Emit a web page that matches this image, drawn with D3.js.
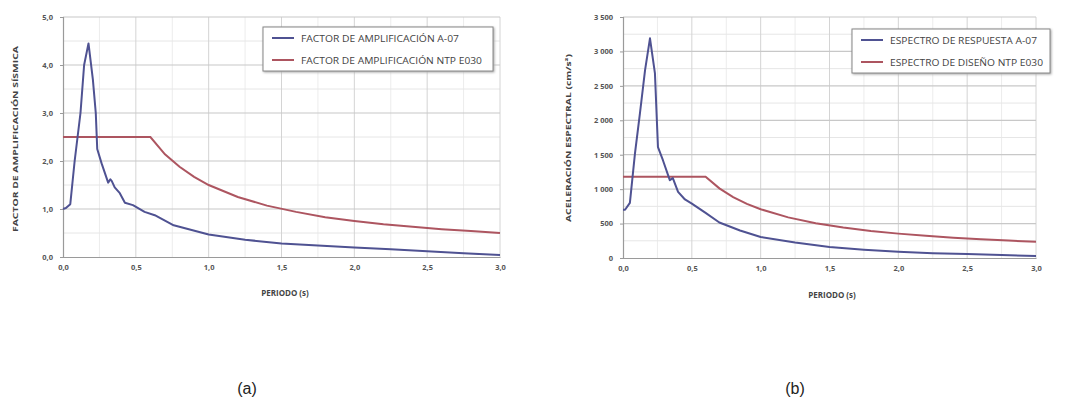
<!DOCTYPE html>
<html>
<head>
<meta charset="utf-8">
<script src="https://cdn.jsdelivr.net/npm/d3@7"></script>
<style>
  body { margin: 0; background: #fff; }
  svg text { font-family: "Open Sans", "DejaVu Sans", sans-serif; }
</style>
</head>
<body>
<div class="svgContainer"></div>
<script>
// ---- data ----
// (a) factor de amplificación
let ampPeriod = [0, 0.02, 0.05, 0.08, 0.12, 0.145, 0.175, 0.205, 0.225, 0.235, 0.265, 0.31, 0.325, 0.335, 0.355, 0.39, 0.425, 0.48, 0.56, 0.63, 0.76, 1.0, 1.25, 1.5, 1.75, 2.0, 2.25, 2.5, 2.75, 3.0];
let ampA07 = [1.0, 1.02, 1.1, 2.0, 3.0, 4.0, 4.45, 3.7, 3.0, 2.25, 1.95, 1.55, 1.62, 1.58, 1.45, 1.33, 1.13, 1.08, 0.94, 0.87, 0.66, 0.47, 0.36, 0.28, 0.24, 0.2, 0.16, 0.12, 0.08, 0.04];
let nrmPeriod = [0, 0.6, 0.7, 0.8, 0.9, 1.0, 1.2, 1.4, 1.6, 1.8, 2.0, 2.2, 2.4, 2.6, 2.8, 3.0];
let ampE030 = [2.5, 2.5, 2.14, 1.88, 1.67, 1.5, 1.25, 1.07, 0.94, 0.83, 0.75, 0.68, 0.63, 0.58, 0.54, 0.5];

// (b) espectro
let espPeriod = [0, 0.015, 0.05, 0.087, 0.123, 0.16, 0.196, 0.232, 0.254, 0.29, 0.34, 0.362, 0.4, 0.45, 0.5, 0.6, 0.7, 0.85, 1.0, 1.25, 1.5, 1.75, 2.0, 2.25, 2.5, 2.75, 3.0];
let espA07 = [700, 700, 800, 1520, 2100, 2725, 3190, 2680, 1610, 1420, 1130, 1160, 960, 850, 790, 655, 515, 400, 305, 225, 160, 120, 90, 70, 58, 42, 29];
let espE030 = [1180, 1180, 1011, 885, 787, 708, 590, 506, 443, 393, 354, 322, 295, 272, 253, 236];

let xTicks = [0, 0.5, 1.0, 1.5, 2.0, 2.5, 3.0];
let ampTicks = [0, 1, 2, 3, 4, 5];
let espTicks = [0, 500, 1000, 1500, 2000, 2500, 3000, 3500];

let w = 1069;
let h = 401;
let blue = "#4f5292";
let red = "#ad5560";

const svg = d3.select(".svgContainer")
    .append("svg")
    .attr("width", w)
    .attr("height", h)
    .style("background-color", "#fff");

const fmt = d3.format(".1f");
const comma = (d) => fmt(d).replace(".", ",");
const thousands = (d) => d >= 1000 ? Math.floor(d / 1000) + " " + d3.format("03d")(d % 1000) : String(d);

function drawChart(o) {
    let xScale = d3.scaleLinear().domain([0, 3]).range([o.left, o.right]);
    let yScale = d3.scaleLinear().domain([0, o.yMax]).range([o.bottom, o.top]);
    let g = svg.append("g");

    // minor grid
    let xMinor = d3.range(0.25, 3, 0.5);
    g.selectAll(".vminor").data(xMinor).enter().append("line")
        .attr("x1", (d) => xScale(d)).attr("x2", (d) => xScale(d))
        .attr("y1", o.top).attr("y2", o.bottom)
        .attr("stroke", "#ececec").attr("stroke-width", 1);
    let yMinor = o.yTicks.slice(0, -1).map((d) => d + o.yStep / 2);
    g.selectAll(".hminor").data(yMinor).enter().append("line")
        .attr("x1", o.left).attr("x2", o.right)
        .attr("y1", (d) => yScale(d)).attr("y2", (d) => yScale(d))
        .attr("stroke", "#e6e6e6").attr("stroke-width", 1);

    // major grid
    g.selectAll(".vmajor").data(xTicks.slice(1)).enter().append("line")
        .attr("x1", (d) => xScale(d)).attr("x2", (d) => xScale(d))
        .attr("y1", o.top).attr("y2", o.bottom)
        .attr("stroke", "#d4d4d4").attr("stroke-width", 1);
    g.selectAll(".hmajor").data(o.yTicks.slice(1)).enter().append("line")
        .attr("x1", o.left).attr("x2", o.right)
        .attr("y1", (d) => yScale(d)).attr("y2", (d) => yScale(d))
        .attr("stroke", "#c8c8c8").attr("stroke-width", 1.2);

    // axes
    const xAxis = d3.axisBottom(xScale).tickValues(xTicks).tickFormat(comma).tickSize(0).tickPadding(8);
    const yAxis = d3.axisLeft(yScale).tickValues(o.yTicks).tickFormat(o.yFormat).tickSize(3).tickPadding(7);
    let gx = g.append("g").attr("transform", `translate(0, ${o.bottom})`).call(xAxis);
    let gy = g.append("g").attr("transform", `translate(${o.left}, 0)`).call(yAxis);
    [gx, gy].forEach((a) => {
        a.select(".domain").attr("stroke", "#9a9a9a").attr("stroke-width", 1.2);
        a.selectAll(".tick line").attr("stroke", "#9a9a9a");
        a.selectAll("text").attr("fill", "#555").attr("font-size", 7.5).attr("font-weight", "bold");
    });

    // series
    let line = d3.line().x((d) => xScale(d[0])).y((d) => yScale(d[1]));
    g.append("path").datum(o.redX.map((d, i) => [d, o.redY[i]]))
        .attr("d", line).attr("fill", "none").attr("stroke", red).attr("stroke-width", 2);
    g.append("path").datum(o.blueX.map((d, i) => [d, o.blueY[i]]))
        .attr("d", line).attr("fill", "none").attr("stroke", blue).attr("stroke-width", 2)
        .attr("stroke-linejoin", "round");

    // titles
    g.append("text").attr("x", o.xTitle[0]).attr("y", o.xTitle[1])
        .attr("text-anchor", "middle").attr("font-size", 8).attr("font-weight", "bold").attr("fill", "#444")
        .text("PERIODO (s)");
    g.append("text").attr("transform", `translate(${o.yTitle[0]}, ${o.yTitle[1]}) rotate(-90)`)
        .attr("text-anchor", "middle").attr("font-size", 7).attr("font-weight", "bold").attr("fill", "#444")
        .attr("textLength", o.yTitle[2]).attr("lengthAdjust", "spacingAndGlyphs")
        .text(o.yLabel);

    // legend
    let lg = g.append("g").attr("transform", `translate(${o.legend[0]}, ${o.legend[1]})`);
    lg.append("rect").attr("width", o.legend[2]).attr("height", o.legend[3])
        .attr("fill", "#fff").attr("stroke", "#888").attr("stroke-width", 1)
        .style("filter", "drop-shadow(1px 1px 1px #aaa)");
    o.legendText.forEach((t, i) => {
        let yy = 11 + i * 22;
        lg.append("line").attr("x1", 9).attr("x2", 31).attr("y1", yy).attr("y2", yy)
            .attr("stroke", i === 0 ? blue : red).attr("stroke-width", 2);
        lg.append("text").attr("x", 38).attr("y", yy + 3.5).attr("font-size", 9)
            .attr("fill", "#444")
            .attr("textLength", o.legendLen[i]).attr("lengthAdjust", "spacingAndGlyphs")
            .text(t);
    });

    // caption
    svg.append("text").attr("x", o.caption[0]).attr("y", o.caption[1])
        .attr("text-anchor", "middle").attr("font-size", 16)
        .style("font-family", "'Liberation Sans', Arial, sans-serif")
        .attr("fill", "#222").text(o.caption[2]);
}

drawChart({
    left: 63, right: 500, top: 17, bottom: 257,
    yMax: 5, yTicks: ampTicks, yStep: 1, yFormat: comma,
    blueX: ampPeriod, blueY: ampA07, redX: nrmPeriod, redY: ampE030,
    yLabel: "FACTOR DE AMPLIFICACIÓN SÍSMICA", yTitle: [18, 139, 186],
    xTitle: [285, 296],
    legend: [263, 27, 230, 44],
    legendText: ["FACTOR DE AMPLIFICACIÓN A-07", "FACTOR DE AMPLIFICACIÓN NTP E030"],
    legendLen: [158, 181],
    caption: [247, 394, "(a)"]
});

drawChart({
    left: 623, right: 1036, top: 17, bottom: 258,
    yMax: 3500, yTicks: espTicks, yStep: 500, yFormat: thousands,
    blueX: espPeriod, blueY: espA07, redX: nrmPeriod, redY: espE030,
    yLabel: "ACELERACIÓN ESPECTRAL (cm/s²)", yTitle: [571, 138, 168],
    xTitle: [832, 298],
    legend: [852, 29, 198, 44],
    legendText: ["ESPECTRO DE RESPUESTA A-07", "ESPECTRO DE DISEÑO NTP E030"],
    legendLen: [147, 153],
    caption: [795, 394, "(b)"]
});
</script>
</body>
</html>
